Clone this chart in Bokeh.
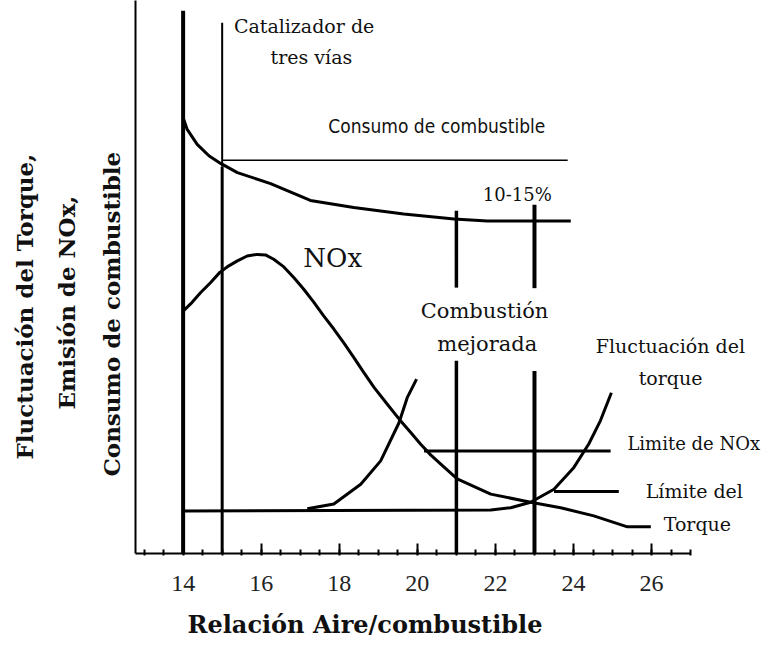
from bokeh.plotting import figure
from bokeh.models import Range1d, FixedTicker, Label, Title
from bokeh.embed import file_html
from bokeh.resources import INLINE

# ---- data (arbitrary vertical units) ----
x_ticks = [14, 16, 18, 20, 22, 24, 26]
x_minor = [13 + 0.5 * i for i in range(29)]

fuel_x = [14.0, 14.1, 14.36, 14.66, 14.96, 15.39, 16.24, 17.26, 18.37, 19.65, 20.94, 21.79, 23.93]
fuel_y = [80.0, 77.9, 75.1, 73.0, 71.6, 69.9, 67.9, 64.8, 63.5, 62.3, 61.4, 61.05, 61.05]

nox_x = [14.0, 14.23, 14.45, 14.70, 14.94, 15.17, 15.39, 15.64, 15.90, 16.11, 16.32, 16.58,
         16.84, 17.09, 17.35, 17.60, 17.86, 18.12, 18.37, 18.63, 18.89, 19.23, 19.53, 19.83,
         20.08, 20.34, 20.60, 21.02, 21.88, 22.90, 23.67, 24.52, 25.38, 25.98]
nox_y = [44.5, 46.1, 47.9, 49.7, 51.6, 52.8, 53.7, 54.6, 54.9, 54.8, 54.0, 52.6,
         50.6, 48.5, 46.1, 43.6, 41.2, 38.6, 36.0, 33.2, 30.5, 27.4, 24.7, 22.2,
         20.1, 18.1, 16.4, 13.7, 10.9, 9.4, 8.4, 6.9, 4.9, 4.9]

lean_x = [17.18, 17.86, 18.55, 19.06, 19.53, 19.74, 19.98]
lean_y = [8.2, 9.1, 12.7, 17.0, 24.0, 28.6, 32.0]

torque_x = [14.0, 21.88, 22.39, 22.90, 23.50, 24.01, 24.39, 24.69, 24.97]
torque_y = [7.8, 8.0, 8.4, 9.4, 11.8, 15.8, 20.1, 24.4, 29.5]

fuel_ref_x = [15.0, 23.85]
fuel_ref_y = [72.2, 72.2]
nox_limit_x = [20.17, 24.95]
nox_limit_y = [18.8, 18.8]
torque_limit_x = [23.50, 25.16]
torque_limit_y = [11.4, 11.4]

# vertical marker segments
markers_x = [14.0, 15.0, 15.0, 21.0, 21.0, 23.0, 23.0]
markers_y0 = [0.0, -1.2, 71.0, 0.0, 48.8, -1.9, 48.7]
markers_y1 = [99.6, 71.0, 97.4, 35.4, 62.9, 33.5, 64.0]
markers_w = [4, 3, 2, 3.5, 3.5, 4, 4]

X_MIN, X_AXIS_END, X_MAX = 12.78, 27.0, 29.02

p = figure(width=769, height=652, output_backend="svg", toolbar_location=None,
           x_range=Range1d(X_MIN, X_MAX), y_range=Range1d(0, 101.5),
           min_border_left=135, min_border_right=0, min_border_top=0, min_border_bottom=99)
p.outline_line_color = None
p.grid.visible = False
p.background_fill_color = "white"

# x axis
xa = p.xaxis[0]
xa.bounds = (X_MIN, X_AXIS_END)
xa.ticker = FixedTicker(ticks=x_ticks, minor_ticks=x_minor)
xa.axis_line_width = 2
xa.axis_line_color = "black"
xa.major_tick_in = 10
xa.major_tick_out = 1
xa.minor_tick_in = 4
xa.minor_tick_out = 2
xa.major_tick_line_width = 2
xa.minor_tick_line_width = 2
xa.major_tick_line_color = "black"
xa.minor_tick_line_color = "black"
xa.major_label_text_font = "Liberation Serif"
xa.major_label_text_font_size = "24px"
xa.major_label_text_color = "#222222"
xa.major_label_standoff = 20

# y axis (line only)
ya = p.yaxis[0]
ya.ticker = FixedTicker(ticks=[])
ya.axis_line_width = 2
ya.axis_line_color = "black"
ya.major_tick_line_color = None
ya.minor_tick_line_color = None
ya.major_tick_out = 0
ya.major_tick_in = 0
ya.major_label_standoff = 0
ya.major_label_text_font_size = "0px"

TITLE_STYLE = dict(text_font="DejaVu Serif", text_font_style="bold", text_color="#111111", align="left")

p.add_layout(Title(text="Relación Aire/combustible", text_font_size="24px",
                   offset=52, standoff=28, **TITLE_STYLE), "below")

p.add_layout(Title(text="Consumo de combustible", text_font_size="23px",
                   offset=77, standoff=21, **TITLE_STYLE), "left")
p.add_layout(Title(text="Emisión de NOx,", text_font_size="23px",
                   offset=144, standoff=12, **TITLE_STYLE), "left")
p.add_layout(Title(text="Fluctuación del Torque,", text_font_size="23px",
                   offset=94, standoff=13, **TITLE_STYLE), "left")

# marks
for xs, ys in [(fuel_x, fuel_y), (nox_x, nox_y), (lean_x, lean_y), (torque_x, torque_y)]:
    p.line(xs, ys, line_width=3, color="black", line_join="round")
p.line(fuel_ref_x, fuel_ref_y, line_width=1.5, color="black")
p.line(nox_limit_x, nox_limit_y, line_width=3, color="black")
p.line(torque_limit_x, torque_limit_y, line_width=3, color="black")
p.segment(x0=markers_x, y0=markers_y0, x1=markers_x, y1=markers_y1,
          line_width=markers_w, color="black")

def lab(text, x, y, size, font="DejaVu Serif", align="left"):
    p.add_layout(Label(x=x, y=y, text=text, text_font=font, text_font_size=size,
                       text_align=align, text_baseline="middle", text_color="#111111"))

lab("Catalizador de", 15.30, 96.8, "19px")
lab("tres vías", 16.24, 91.1, "19px")
lab("Consumo de combustible", 17.72, 78.5, "19px", font="DejaVu Sans Condensed")
lab("10-15%", 22.56, 65.9, "18px", align="center")
lab("NOx", 17.08, 54.3, "26px")
lab("Combustión", 21.72, 44.5, "21px", align="center")
lab("mejorada", 21.79, 38.4, "21px", align="center")
lab("Fluctuación del", 24.57, 38.1, "19px")
lab("torque", 25.67, 32.3, "19px")
lab("Limite de NOx", 25.38, 20.1, "18px")
lab("Límite del", 25.85, 11.5, "19px")
lab("Torque", 26.31, 5.5, "19px")

open("out.html", "w").write(file_html(p, INLINE))
